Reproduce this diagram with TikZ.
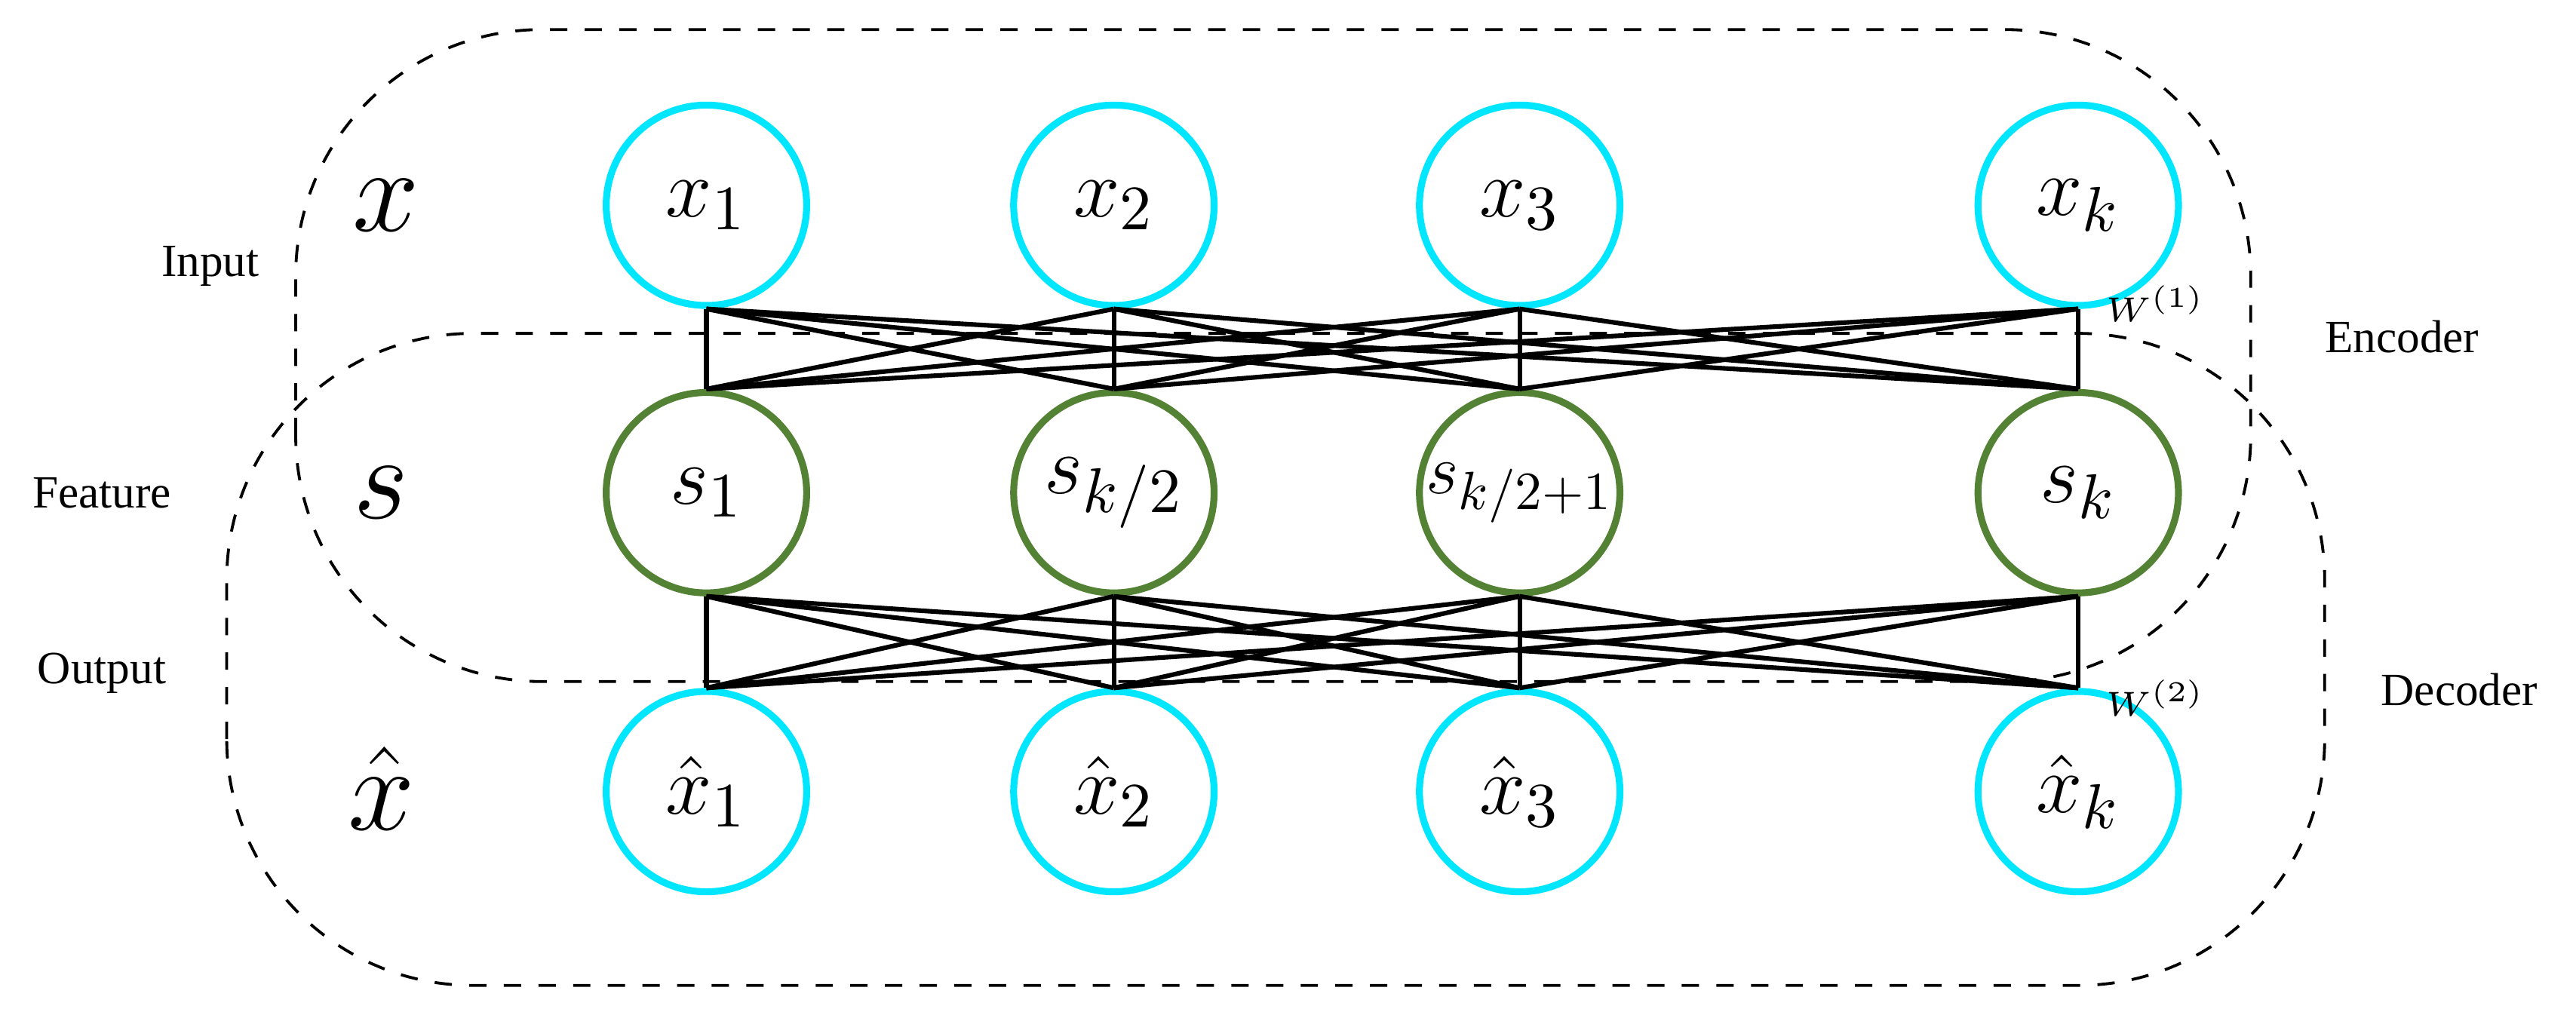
\documentclass[tikz,border=0pt]{standalone}
\usepackage{fontspec}
\setmainfont{Liberation Serif}
\usetikzlibrary{positioning}
\definecolor{cyanring}{RGB}{0,230,255}
\definecolor{greenring}{RGB}{84,130,53}
\tikzset{
  unit/.style={circle,draw,line width=1.2pt,minimum size=1.22cm,inner sep=0pt,font=\fontsize{15}{18}\selectfont},
  inp/.style={unit,draw=cyanring},
  feat/.style={unit,draw=greenring},
  tag/.style={font=\fontsize{8}{10}\selectfont},
  box/.style={draw,dashed,line width=0.5pt,rounded corners=1.5cm},
}
\begin{document}
\begin{tikzpicture}
\useasboundingbox (0,0) rectangle (15.68,6.18);
%dashed boxes
\draw[box] (1.80,2.03) rectangle (13.70,6.00);
\draw[box] (1.38,0.18) rectangle (14.15,4.15);
%input layer
\node[inp] (x1) at (4.30,4.93) {$x_1$};
\node[inp] (x2) at (6.78,4.93) {$x_2$};
\node[inp] (x3) at (9.25,4.93) {$x_3$};
\node[inp] (xk) at (12.65,4.93) {$x_k$};
%feature layer
\node[feat] (s1) at (4.30,3.18) {$s_1$};
\node[feat] (s2) at (6.78,3.18) {$s_{k/2}$};
\node[feat] (s3) at (9.25,3.18) {\scalebox{0.85}{$s_{k/2+1}$}};
\node[feat] (sk) at (12.65,3.18) {$s_k$};
%output layer
\node[inp] (y1) at (4.30,1.36) {$\hat{x}_1$};
\node[inp] (y2) at (6.78,1.36) {$\hat{x}_2$};
\node[inp] (y3) at (9.25,1.36) {$\hat{x}_3$};
\node[inp] (yk) at (12.65,1.36) {$\hat{x}_k$};
%weights
\foreach \a in {x1,x2,x3,xk}{
  \foreach \b in {s1,s2,s3,sk}{
    \draw[line width=0.8pt] (\a.south) -- (\b.north);
  }
}
\foreach \a in {s1,s2,s3,sk}{
  \foreach \b in {y1,y2,y3,yk}{
    \draw[line width=0.8pt] (\a.south) -- (\b.north);
  }
}
%labels
\node[font=\fontsize{20}{24}\selectfont] (lx) at (2.35,4.93) {$x$};
\node[font=\fontsize{20}{24}\selectfont] (ls) at (2.32,3.18) {$s$};
\node[font=\fontsize{20}{24}\selectfont] (ly) at (2.32,1.38) {$\hat{x}$};
\node[tag] (tin) at (1.28,4.56) {Input};
\node[tag] (tfe) at (0.62,3.18) {Feature};
\node[tag] (tou) at (0.62,2.08) {Output};
\node[tag] (ten) at (14.62,4.13) {Encoder};
\node[tag] (tde) at (14.97,1.98) {Decoder};
\node[font=\fontsize{6}{7}\selectfont] (w1) at (13.12,4.33) {$W^{(1)}$};
\node[font=\fontsize{6}{7}\selectfont] (w2) at (13.12,1.93) {$W^{(2)}$};
\end{tikzpicture}
\end{document}
